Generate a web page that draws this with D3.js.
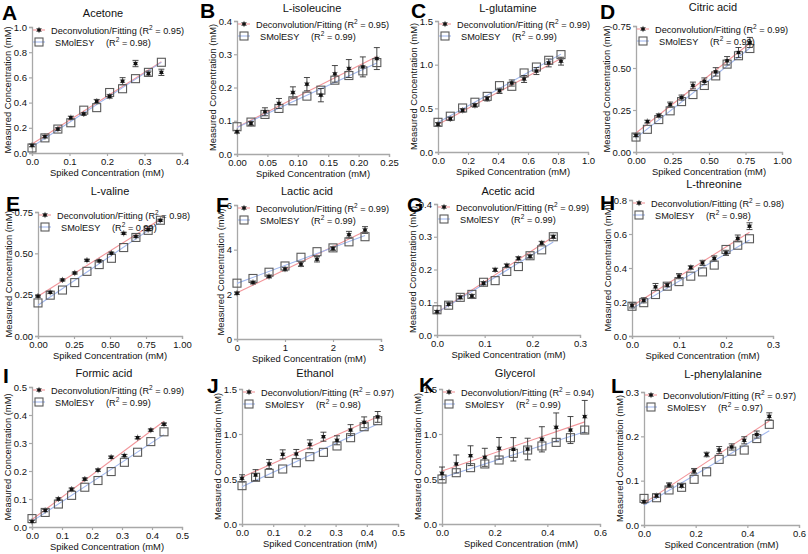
<!DOCTYPE html>
<html><head><meta charset="utf-8">
<script src="https://cdn.jsdelivr.net/npm/d3@7"></script>
<style>body{margin:0;background:#fff} svg{display:block} text{font-family:"Liberation Sans",Arial,sans-serif}</style>
</head><body><svg id="c" width="808" height="554"></svg>
<script>
// ---------- data ----------
const letters = ["A","B","C","D","E","F","G","H","I","J","K","L"];
const titles = ["Acetone","L-isoleucine","L-glutamine","Citric acid","L-valine","Lactic acid","Acetic acid","L-threonine","Formic acid","Ethanol","Glycerol","L-phenylalanine"];
const r2Decon = ["0.95","0.95","0.99","0.99","0.98","0.99","0.99","0.98","0.99","0.97","0.94","0.97"];
const r2Smol  = ["0.98","0.99","0.99","0.99","0.99","0.99","0.99","0.98","0.99","0.98","0.99","0.97"];
const seriesNames = ["Deconvolution/Fitting","SMolESY"];

const xTickValues = [
  [0,0.1,0.2,0.3,0.4],[0,0.05,0.10,0.15,0.20,0.25],[0,0.2,0.4,0.6,0.8,1.0],[0,0.25,0.5,0.75,1.0],
  [0,0.25,0.5,0.75,1.0],[0,1,2,3],[0,0.1,0.2,0.3],[0,0.1,0.2,0.3],
  [0,0.1,0.2,0.3,0.4,0.5],[0,0.1,0.2,0.3,0.4,0.5],[0,0.2,0.4,0.6],[0,0.2,0.4,0.6]];
const xTickFormats = [".1f",".2f",".1f",".2f",".2f","d",".1f",".1f",".1f",".1f",".1f",".1f"];
const yTickValues = [
  [0,0.2,0.4,0.6,0.8,1.0],[0,0.1,0.2,0.3,0.4],[0,0.5,1.0,1.5],[0,0.25,0.5,0.75],
  [0,0.25,0.5,0.75],[0,2,4,6],[0,0.1,0.2,0.3,0.4],[0,0.2,0.4,0.6,0.8],
  [0,0.1,0.2,0.3,0.4,0.5],[0,0.5,1.0,1.5],[0,0.5,1.0,1.5],[0,0.1,0.2,0.3]];
const yTickFormats = [".1f",".1f",".1f",".2f",".2f","d",".1f",".1f",".1f",".1f",".1f",".1f"];

const spiked = [
  [0,0.0345,0.069,0.1035,0.138,0.1725,0.207,0.2415,0.276,0.3105,0.345],
  [0,0.023,0.046,0.069,0.092,0.115,0.138,0.161,0.184,0.207,0.23],
  [0,0.082,0.164,0.246,0.328,0.41,0.492,0.574,0.656,0.738,0.82],
  [0,0.078,0.156,0.234,0.312,0.39,0.468,0.546,0.624,0.702,0.78],
  [0,0.085,0.17,0.255,0.34,0.425,0.51,0.595,0.68,0.765,0.85],
  [0,0.333,0.667,1.0,1.333,1.667,2.0,2.333,2.667],
  [0,0.0244,0.0488,0.0732,0.0976,0.122,0.1464,0.1708,0.1952,0.2196,0.244],
  [0,0.025,0.05,0.075,0.1,0.125,0.15,0.175,0.2,0.225,0.25],
  [0,0.044,0.088,0.132,0.176,0.22,0.264,0.308,0.352,0.396,0.44],
  [0,0.0435,0.087,0.1305,0.174,0.2175,0.261,0.3045,0.348,0.3915,0.435],
  [0,0.0542,0.1084,0.1626,0.2168,0.271,0.3252,0.3794,0.4336,0.4878,0.542],
  [0,0.0485,0.097,0.1455,0.194,0.2425,0.291,0.3395,0.388,0.4365,0.485]];

const deconValues = [
  [0.06,0.13,0.19,0.28,0.31,0.41,0.45,0.57,0.71,0.63,0.64],
  [0.067,0.092,0.127,0.152,0.185,0.21,0.177,0.241,0.257,0.262,0.287],
  [0.317,0.38,0.477,0.534,0.61,0.70,0.79,0.836,0.927,1.02,1.04],
  [0.099,0.181,0.217,0.282,0.324,0.396,0.421,0.477,0.543,0.592,0.652],
  [0.241,0.264,0.339,0.381,0.458,0.454,0.501,0.621,0.602,0.643,0.70],
  [2.05,2.53,2.80,3.13,3.35,3.57,4.05,4.67,4.88],
  [0.071,0.094,0.115,0.119,0.158,0.199,0.212,0.234,0.24,0.281,0.30],
  [0.18,0.21,0.289,0.299,0.352,0.403,0.43,0.456,0.489,0.574,0.646],
  [0.02,0.059,0.10,0.135,0.171,0.203,0.249,0.255,0.319,0.346,0.367],
  [0.507,0.544,0.667,0.774,0.778,0.885,0.97,0.93,1.044,1.13,1.19],
  [0.563,0.667,0.759,0.741,0.841,0.83,0.833,0.941,1.074,1.044,1.193],
  [0.0525,0.066,0.09,0.0885,0.1215,0.159,0.169,0.176,0.191,0.204,0.245]];

const deconErrors = [
  [0.01,0.01,0.01,0.012,0.01,0.015,0.015,0.028,0.025,0.02,0.025],
  [0.004,0.006,0.012,0.015,0.017,0.02,0.02,0.025,0.027,0.03,0.033],
  [0.02,0.02,0.02,0.02,0.025,0.03,0.035,0.04,0.04,0.045,0.045],
  [0.008,0.008,0.01,0.015,0.015,0.02,0.02,0.025,0.025,0.03,0.03],
  [0.005,0.005,0.005,0.005,0.005,0.005,0.005,0.005,0.005,0.005,0.005],
  [0.05,0.06,0.06,0.08,0.1,0.12,0.08,0.15,0.15],
  [0.004,0.004,0.005,0.005,0.005,0.005,0.005,0.005,0.005,0.005,0.005],
  [0.015,0.015,0.02,0.01,0.015,0.01,0.015,0.015,0.015,0.02,0.02],
  [0.004,0.004,0.004,0.004,0.004,0.004,0.004,0.004,0.004,0.004,0.004],
  [0.04,0.06,0.05,0.05,0.05,0.05,0.05,0.05,0.06,0.06,0.06],
  [0.07,0.1,0.11,0.1,0.12,0.13,0.12,0.14,0.16,0.15,0.18],
  [0.003,0.004,0.005,0.004,0.006,0.005,0.008,0.007,0.008,0.008,0.008]];

const smolValues = [
  [0.04,0.12,0.19,0.24,0.34,0.36,0.48,0.51,0.59,0.64,0.72],
  [0.082,0.096,0.119,0.137,0.16,0.174,0.192,0.222,0.236,0.25,0.275],
  [0.34,0.41,0.504,0.57,0.637,0.76,0.752,0.905,0.973,1.05,1.115],
  [0.089,0.135,0.193,0.245,0.30,0.342,0.396,0.453,0.523,0.573,0.616],
  [0.20,0.247,0.278,0.323,0.391,0.432,0.47,0.535,0.596,0.639,0.70],
  [2.5,2.71,2.99,3.27,3.66,3.91,4.08,4.35,4.58],
  [0.077,0.091,0.115,0.124,0.161,0.166,0.194,0.209,0.242,0.26,0.30],
  [0.175,0.196,0.244,0.293,0.32,0.352,0.377,0.417,0.509,0.534,0.572],
  [0.03,0.052,0.082,0.113,0.142,0.166,0.198,0.231,0.267,0.305,0.34],
  [0.426,0.519,0.563,0.611,0.681,0.748,0.796,0.867,0.959,1.081,1.148],
  [0.5,0.57,0.626,0.667,0.711,0.785,0.822,0.867,0.907,0.959,1.044],
  [0.06,0.0615,0.079,0.085,0.103,0.12,0.148,0.1665,0.169,0.195,0.227]];

// ---------- layout ----------
const plotBoxes = [ // left, top, right, bottom
  [32,27,182,153],[237,21,389,154],[438,21,588,152],[636,26,782,152],
  [38,212,182,336],[237,205,381,339],[437,204,580,335],[632,200,773,336],
  [32,387,182,527],[242,389,398,524],[442,389,600,524],[644,392,799,525]];
const letterPos = [[2,20],[200,18],[411,18],[600,19],[6,211],[216,212],[407,212],[600,210],[3,383],[207,393],[419,392],[611,393]];
const titlePos = [[103,17],[312,12],[508,12],[713,11],[110,195],[307,195],[508,195],[714,188],[104,377],[315,377],[515,377],[723,378]];

const RED = "#f2959a", BLUE = "#a2b8ef";
const svg = d3.select("#c");

function fit(xs, ys){
  const mx = d3.mean(xs), my = d3.mean(ys);
  let sxy=0,sxx=0;
  xs.forEach((x,i)=>{sxy+=(x-mx)*(ys[i]-my); sxx+=(x-mx)*(x-mx);});
  const b = sxy/sxx; return [my-b*mx, b];
}
function asterisk(g, x, y){
  g.append("path").attr("d", d3.symbol(d3.symbolAsterisk, 26)()).attr("transform",`translate(${x},${y})`)
    .attr("stroke","#666").attr("stroke-width",0.9).attr("fill","none");
  g.append("rect").attr("x",x-1.7).attr("y",y-1.7).attr("width",3.4).attr("height",3.4).attr("fill","#111");
}
function square(g, x, y){
  g.append("rect").attr("x",x-4).attr("y",y-4).attr("width",8).attr("height",8)
    .attr("fill","none").attr("stroke","#5a5a5a").attr("stroke-width",1.1);
}

letters.forEach((L, i) => {
  const [l,t,r,b] = plotBoxes[i];
  const xs = d3.scaleLinear().domain([xTickValues[i][0], d3.max(xTickValues[i])]).range([l,r]);
  const ys = d3.scaleLinear().domain([yTickValues[i][0], d3.max(yTickValues[i])]).range([b,t]);
  const g = svg.append("g");

  // axes
  const ax = g.append("g").attr("transform",`translate(0,${b})`)
    .call(d3.axisBottom(xs).tickValues(xTickValues[i]).tickFormat(d3.format(xTickFormats[i])).tickSize(3).tickPadding(2));
  const ay = g.append("g").attr("transform",`translate(${l},0)`)
    .call(d3.axisLeft(ys).tickValues(yTickValues[i]).tickFormat(d3.format(yTickFormats[i])).tickSize(3).tickPadding(2));
  [ax, ay].forEach(a => {
    a.select(".domain").attr("stroke","#a8a8a8").attr("stroke-width",1.3);
    a.selectAll(".tick line").attr("stroke","#a8a8a8").attr("stroke-width",1.2);
    a.selectAll("text").attr("fill","#111").style("font-size","9.5px").style("font-family","Liberation Sans, Arial, sans-serif");
  });
  const bb = ay.node().getBBox();
  g.append("text").attr("transform",`translate(${l + bb.x - 3},${(t+b)/2}) rotate(-90)`)
    .attr("text-anchor","middle").style("font-size","9.4px").attr("fill","#111").text("Measured Concentration (mM)");
  g.append("text").attr("x",(l+r)/2).attr("y",b+23).attr("text-anchor","middle")
    .style("font-size","9.4px").attr("fill","#111").text("Spiked Concentration (mM)");

  // title and letter
  g.append("text").attr("x",titlePos[i][0]).attr("y",titlePos[i][1]).attr("text-anchor","middle")
    .style("font-size","11px").attr("fill","#111").text(titles[i]);
  g.append("text").attr("x",letterPos[i][0]).attr("y",letterPos[i][1])
    .style("font-size","21px").style("font-weight","bold").attr("fill","#000").text(L);

  // regression lines
  const X = spiked[i], xmax = d3.max(X);
  [[deconValues[i], RED],[smolValues[i], BLUE]].forEach(([Y, col]) => {
    const [a, k] = fit(X, Y);
    g.append("line").attr("x1",xs(0)).attr("y1",ys(a)).attr("x2",xs(xmax)).attr("y2",ys(a+k*xmax))
      .attr("stroke",col).attr("stroke-width",1.1);
  });

  // error bars
  X.forEach((x, j) => {
    const v = deconValues[i][j], e = deconErrors[i][j];
    const px = xs(x), y1 = ys(v+e), y2 = ys(v-e);
    g.append("line").attr("x1",px).attr("x2",px).attr("y1",y1).attr("y2",y2).attr("stroke","#333").attr("stroke-width",0.9);
    [y1,y2].forEach(yy => g.append("line").attr("x1",px-3).attr("x2",px+3).attr("y1",yy).attr("y2",yy).attr("stroke","#333").attr("stroke-width",0.9));
  });
  X.forEach((x, j) => square(g, xs(x), ys(smolValues[i][j])));
  X.forEach((x, j) => asterisk(g, xs(x), ys(deconValues[i][j])));

  // legend
  const r1 = t + 3, r2 = t + 15, mx = l + 7;
  g.append("line").attr("x1",mx-6).attr("x2",mx+6).attr("y1",r1).attr("y2",r1).attr("stroke",RED).attr("stroke-width",1.1);
  asterisk(g, mx, r1);
  g.append("line").attr("x1",mx-6).attr("x2",mx+6).attr("y1",r2).attr("y2",r2).attr("stroke",BLUE).attr("stroke-width",1.1);
  square(g, mx, r2);
  const t1 = g.append("text").attr("x",l+19).attr("y",r1+3.5).style("font-size","9.2px").attr("fill","#111");
  t1.append("tspan").text(seriesNames[0] + " (R");
  t1.append("tspan").attr("dy",-3.5).style("font-size","6.5px").text("2");
  t1.append("tspan").attr("dy",3.5).text(" = " + r2Decon[i] + ")");
  g.append("text").attr("x",l+23).attr("y",r2+3.5).style("font-size","9.2px").attr("fill","#111").text(seriesNames[1]);
  const t2 = g.append("text").attr("x",l+74).attr("y",r2+3.5).style("font-size","9.2px").attr("fill","#111");
  t2.append("tspan").text("(R");
  t2.append("tspan").attr("dy",-3.5).style("font-size","6.5px").text("2");
  t2.append("tspan").attr("dy",3.5).text(" = " + r2Smol[i] + ")");
});
</script></body></html>
